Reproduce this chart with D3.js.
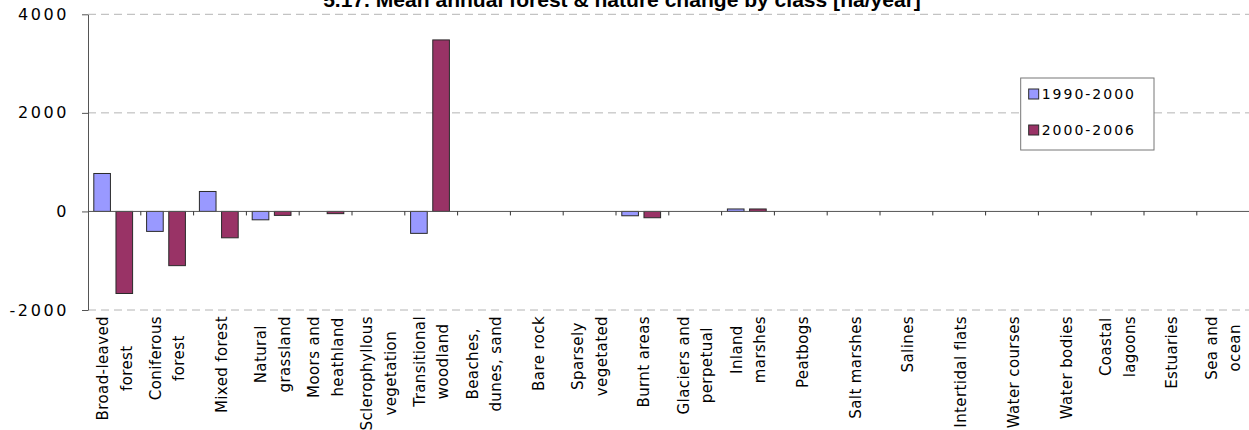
<!DOCTYPE html>
<html>
<head>
<meta charset="utf-8">
<script src="https://cdn.jsdelivr.net/npm/d3@7"></script>
<style>
  body { margin: 0; background: #fff; }
  svg { display: block; }
</style>
</head>
<body>
<div id="chart"></div>
<script>
// data
var title = "5.17. Mean annual forest & nature change by class [ha/year]";

var categories = [
  "Broad-leaved\nforest", "Coniferous\nforest", "Mixed forest", "Natural\ngrassland",
  "Moors and\nheathland", "Sclerophyllous\nvegetation", "Transitional\nwoodland",
  "Beaches,\ndunes, sand", "Bare rock", "Sparsely\nvegetated", "Burnt areas",
  "Glaciers and\nperpetual", "Inland\nmarshes", "Peatbogs", "Salt marshes", "Salines",
  "Intertidal flats", "Water courses", "Water bodies", "Coastal\nlagoons", "Estuaries",
  "Sea and\nocean"
];

var series = ["1990-2000", "2000-2006"];

var values1990 = [770, -405, 405, -170, 0, 0, -445, 0, 0, 0, -88, 0, 50, 0, 0, 0, 0, 0, 0, 0, 0, 0];
var values2000 = [-1665, -1100, -535, -80, -45, 0, 3480, 0, 0, 0, -128, 0, 50, 0, 0, 0, 0, 0, 0, 0, 0, 0];

var yTicks = [-2000, 0, 2000, 4000];

var colors = ["#9999ff", "#993366"];

var width = 1249, height = 430;

var svg = d3.select("#chart").append("svg")
    .attr("width", width)
    .attr("height", height);

var y = d3.scaleLinear()
    .domain([-2000, 4000])
    .range([310, 14.3]);

var x0 = d3.scaleBand()
    .domain(categories)
    .range([88, 1249.6]);

var x1 = d3.scaleBand()
    .domain(series)
    .range([5.8, 44.6])
    .paddingInner(0.25);

// dashed gridlines
svg.append("g")
    .selectAll("line")
    .data(yTicks.filter(function(d) { return d !== 0; }))
    .enter().append("line")
    .attr("x1", 88)
    .attr("x2", width)
    .attr("y1", function(d) { return y(d); })
    .attr("y2", function(d) { return y(d); })
    .attr("stroke", "#b4b4b4")
    .attr("stroke-width", 1)
    .attr("stroke-dasharray", "8,5");

// bars
var rows = categories.map(function(c, i) {
  return { cat: c, vals: [values1990[i], values2000[i]] };
});

var groups = svg.append("g")
    .selectAll("g")
    .data(rows)
    .enter().append("g")
    .attr("transform", function(d) { return "translate(" + x0(d.cat) + ",0)"; });

groups.selectAll("rect")
    .data(function(d) {
      return d.vals.map(function(v, j) { return { s: series[j], v: v, j: j }; })
        .filter(function(e) { return e.v !== 0; });
    })
    .enter().append("rect")
    .attr("x", function(d) { return x1(d.s); })
    .attr("width", x1.bandwidth())
    .attr("y", function(d) { return y(Math.max(0, d.v)); })
    .attr("height", function(d) { return Math.abs(y(d.v) - y(0)); })
    .attr("fill", function(d) { return colors[d.j]; })
    .attr("stroke", "#2a2a2a")
    .attr("stroke-width", 1);

// y axis
var yAxis = svg.append("g")
    .attr("transform", "translate(88,0)")
    .call(d3.axisLeft(y).tickValues(yTicks).tickSize(6).tickSizeOuter(0).tickPadding(13)
      .tickFormat(function(d) { return d; }));

yAxis.select(".domain").attr("stroke", "#555");
yAxis.selectAll(".tick line").attr("stroke", "#555");
yAxis.selectAll(".tick text")
    .attr("fill", "#000")
    .style("font-family", "DejaVu Sans, Verdana, sans-serif")
    .style("font-size", "16px")
    .style("letter-spacing", "2.6px");

// x axis at zero with ticks between categories
var xAxis = svg.append("g");
xAxis.append("line")
    .attr("x1", x0.range()[0])
    .attr("x2", x0.range()[1])
    .attr("y1", y(0))
    .attr("y2", y(0))
    .attr("stroke", "#555");

xAxis.selectAll(".xt")
    .data(categories.slice(1))
    .enter().append("line")
    .attr("class", "xt")
    .attr("x1", function(d) { return x0(d); })
    .attr("x2", function(d) { return x0(d); })
    .attr("y1", y(0))
    .attr("y2", y(0) + 4)
    .attr("stroke", "#333");

// category labels, rotated, hanging below the chart
var labels = svg.append("g")
    .selectAll("g")
    .data(categories)
    .enter().append("g")
    .attr("transform", function(d) {
      return "translate(" + (x0(d) + x0.bandwidth() / 2) + ",316) rotate(-90)";
    });

labels.each(function(d) {
  var g = d3.select(this);
  var lines = d.split("\n");
  var texts = lines.map(function(line, k) {
    var off = lines.length === 1 ? 1.5 : (k === 0 ? -11.8 : 11.8);
    return g.append("text")
      .attr("y", off)
      .attr("dy", "0.36em")
      .attr("text-anchor", "middle")
      .style("font-family", "DejaVu Sans, Verdana, sans-serif")
      .style("font-size", "15px")
      .style("letter-spacing", "0.4px")
      .attr("fill", "#000")
      .text(line);
  });
  var maxLen = d3.max(texts, function(t) { return t.node().getComputedTextLength(); });
  texts.forEach(function(t) { t.attr("x", -maxLen / 2); });
});

// title, cut off at the top edge
var t = svg.append("text")
    .attr("x", 622)
    .attr("y", 7)
    .attr("text-anchor", "middle")
    .style("font-family", "Liberation Sans, Arial, sans-serif")
    .style("font-weight", "bold")
    .style("font-size", "17px")
    .attr("fill", "#000")
    .text(title);
var tLen = t.node().getComputedTextLength();
t.style("font-size", (17 * 598 / tLen) + "px");

// legend
var legend = svg.append("g");
var box = legend.append("rect")
    .attr("fill", "#fff")
    .attr("stroke", "#777")
    .attr("stroke-width", 1);

var items = legend.selectAll(".item")
    .data(series)
    .enter().append("g")
    .attr("class", "item")
    .attr("transform", function(d, i) { return "translate(0," + (94 + i * 36) + ")"; });

items.append("text")
    .attr("dy", "0.36em")
    .style("font-family", "DejaVu Sans, Verdana, sans-serif")
    .style("font-size", "14px")
    .style("letter-spacing", "2px")
    .attr("fill", "#000")
    .text(function(d) { return d; });

var textLen = d3.max(items.selectAll("text").nodes(), function(n) { return n.getComputedTextLength(); });
var textX = 1136 - textLen;
items.select("text").attr("x", textX);
items.append("rect")
    .attr("x", textX - 13)
    .attr("y", -5)
    .attr("width", 10)
    .attr("height", 10)
    .attr("fill", function(d, i) { return colors[i]; })
    .attr("stroke", "#2a2a2a");

box.attr("x", textX - 21)
    .attr("y", 78)
    .attr("width", 1154 - (textX - 21))
    .attr("height", 72);
</script>
</body>
</html>
